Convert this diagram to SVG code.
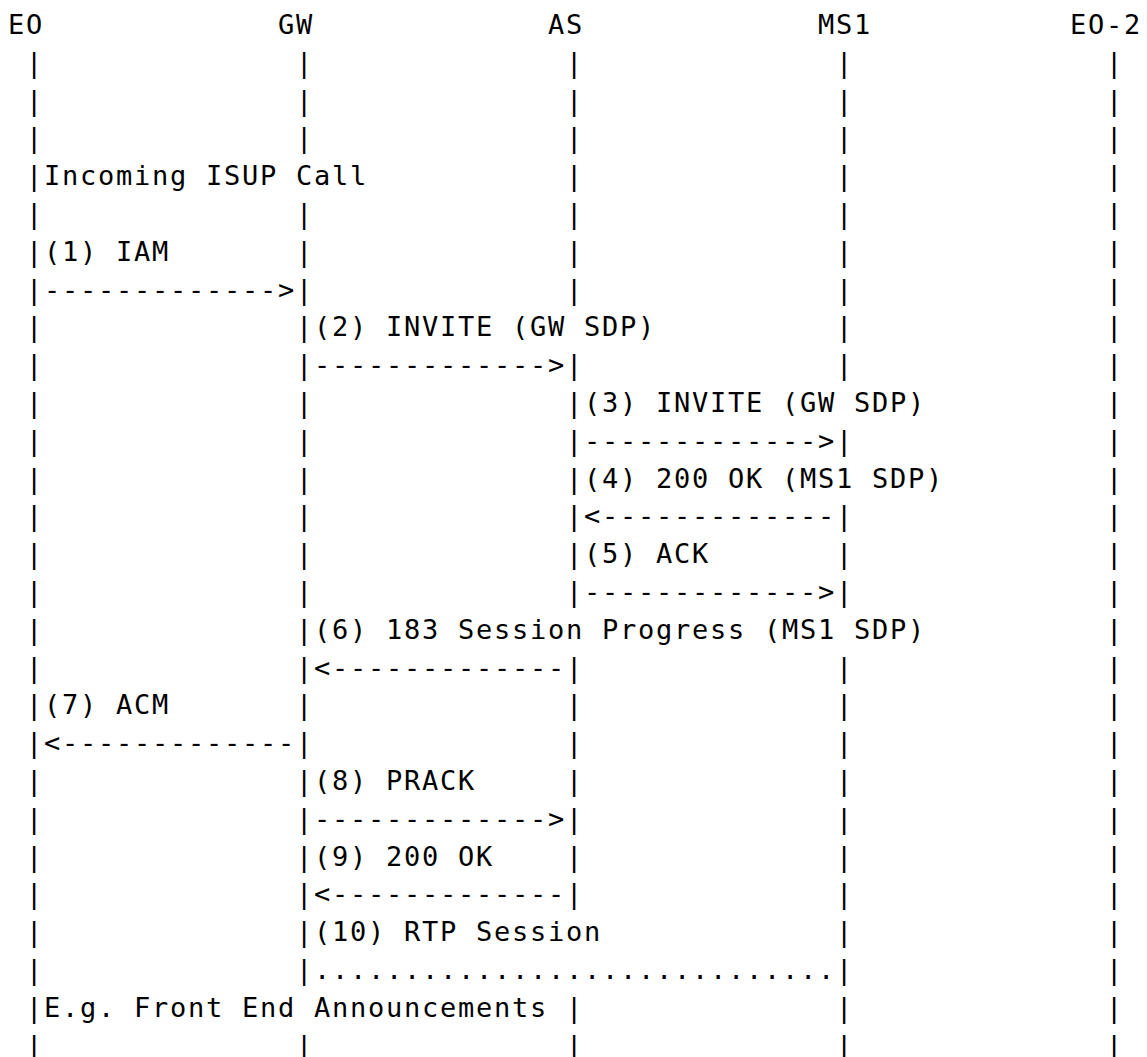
<svg xmlns="http://www.w3.org/2000/svg" width="1147" height="1057" viewBox="0 0 1147 1057">
<style>
text{font-family:"DejaVu Sans Mono","Liberation Mono",monospace;font-size:27px;letter-spacing:1.75px;fill:#000;white-space:pre}
</style>
<rect width="1147" height="1057" fill="#fff"/>
<g transform="translate(-0.3 0)">
<g id="node-EO">
<text x="8.2" y="34">EO</text>
<text class="life"><tspan x="26.2" y="71.8">|</tspan><tspan x="26.2" y="109.6">|</tspan><tspan x="26.2" y="147.4">|</tspan><tspan x="26.2" y="185.2">|</tspan><tspan x="26.2" y="223">|</tspan><tspan x="26.2" y="260.8">|</tspan><tspan x="26.2" y="298.6">|</tspan><tspan x="26.2" y="336.4">|</tspan><tspan x="26.2" y="374.2">|</tspan><tspan x="26.2" y="412">|</tspan><tspan x="26.2" y="449.8">|</tspan><tspan x="26.2" y="487.6">|</tspan><tspan x="26.2" y="525.4">|</tspan><tspan x="26.2" y="563.2">|</tspan><tspan x="26.2" y="601">|</tspan><tspan x="26.2" y="638.8">|</tspan><tspan x="26.2" y="676.6">|</tspan><tspan x="26.2" y="714.4">|</tspan><tspan x="26.2" y="752.2">|</tspan><tspan x="26.2" y="790">|</tspan><tspan x="26.2" y="827.8">|</tspan><tspan x="26.2" y="865.6">|</tspan><tspan x="26.2" y="903.4">|</tspan><tspan x="26.2" y="941.2">|</tspan><tspan x="26.2" y="979">|</tspan><tspan x="26.2" y="1016.8">|</tspan><tspan x="26.2" y="1054.6">|</tspan></text>
</g>
<g id="node-GW">
<text x="278.2" y="34">GW</text>
<text class="life"><tspan x="296.2" y="71.8">|</tspan><tspan x="296.2" y="109.6">|</tspan><tspan x="296.2" y="147.4">|</tspan><tspan x="296.2" y="223">|</tspan><tspan x="296.2" y="260.8">|</tspan><tspan x="296.2" y="298.6">|</tspan><tspan x="296.2" y="336.4">|</tspan><tspan x="296.2" y="374.2">|</tspan><tspan x="296.2" y="412">|</tspan><tspan x="296.2" y="449.8">|</tspan><tspan x="296.2" y="487.6">|</tspan><tspan x="296.2" y="525.4">|</tspan><tspan x="296.2" y="563.2">|</tspan><tspan x="296.2" y="601">|</tspan><tspan x="296.2" y="638.8">|</tspan><tspan x="296.2" y="676.6">|</tspan><tspan x="296.2" y="714.4">|</tspan><tspan x="296.2" y="752.2">|</tspan><tspan x="296.2" y="790">|</tspan><tspan x="296.2" y="827.8">|</tspan><tspan x="296.2" y="865.6">|</tspan><tspan x="296.2" y="903.4">|</tspan><tspan x="296.2" y="941.2">|</tspan><tspan x="296.2" y="979">|</tspan><tspan x="296.2" y="1054.6">|</tspan></text>
</g>
<g id="node-AS">
<text x="548.2" y="34">AS</text>
<text class="life"><tspan x="566.2" y="71.8">|</tspan><tspan x="566.2" y="109.6">|</tspan><tspan x="566.2" y="147.4">|</tspan><tspan x="566.2" y="185.2">|</tspan><tspan x="566.2" y="223">|</tspan><tspan x="566.2" y="260.8">|</tspan><tspan x="566.2" y="298.6">|</tspan><tspan x="566.2" y="374.2">|</tspan><tspan x="566.2" y="412">|</tspan><tspan x="566.2" y="449.8">|</tspan><tspan x="566.2" y="487.6">|</tspan><tspan x="566.2" y="525.4">|</tspan><tspan x="566.2" y="563.2">|</tspan><tspan x="566.2" y="601">|</tspan><tspan x="566.2" y="676.6">|</tspan><tspan x="566.2" y="714.4">|</tspan><tspan x="566.2" y="752.2">|</tspan><tspan x="566.2" y="790">|</tspan><tspan x="566.2" y="827.8">|</tspan><tspan x="566.2" y="865.6">|</tspan><tspan x="566.2" y="903.4">|</tspan><tspan x="566.2" y="1016.8">|</tspan><tspan x="566.2" y="1054.6">|</tspan></text>
</g>
<g id="node-MS1">
<text x="818.2" y="34">MS1</text>
<text class="life"><tspan x="836.2" y="71.8">|</tspan><tspan x="836.2" y="109.6">|</tspan><tspan x="836.2" y="147.4">|</tspan><tspan x="836.2" y="185.2">|</tspan><tspan x="836.2" y="223">|</tspan><tspan x="836.2" y="260.8">|</tspan><tspan x="836.2" y="298.6">|</tspan><tspan x="836.2" y="336.4">|</tspan><tspan x="836.2" y="374.2">|</tspan><tspan x="836.2" y="449.8">|</tspan><tspan x="836.2" y="525.4">|</tspan><tspan x="836.2" y="563.2">|</tspan><tspan x="836.2" y="601">|</tspan><tspan x="836.2" y="676.6">|</tspan><tspan x="836.2" y="714.4">|</tspan><tspan x="836.2" y="752.2">|</tspan><tspan x="836.2" y="790">|</tspan><tspan x="836.2" y="827.8">|</tspan><tspan x="836.2" y="865.6">|</tspan><tspan x="836.2" y="903.4">|</tspan><tspan x="836.2" y="941.2">|</tspan><tspan x="836.2" y="979">|</tspan><tspan x="836.2" y="1016.8">|</tspan><tspan x="836.2" y="1054.6">|</tspan></text>
</g>
<g id="node-EO-2">
<text x="1070.2" y="34">EO-2</text>
<text class="life"><tspan x="1106.2" y="71.8">|</tspan><tspan x="1106.2" y="109.6">|</tspan><tspan x="1106.2" y="147.4">|</tspan><tspan x="1106.2" y="185.2">|</tspan><tspan x="1106.2" y="223">|</tspan><tspan x="1106.2" y="260.8">|</tspan><tspan x="1106.2" y="298.6">|</tspan><tspan x="1106.2" y="336.4">|</tspan><tspan x="1106.2" y="374.2">|</tspan><tspan x="1106.2" y="412">|</tspan><tspan x="1106.2" y="449.8">|</tspan><tspan x="1106.2" y="487.6">|</tspan><tspan x="1106.2" y="525.4">|</tspan><tspan x="1106.2" y="563.2">|</tspan><tspan x="1106.2" y="601">|</tspan><tspan x="1106.2" y="638.8">|</tspan><tspan x="1106.2" y="676.6">|</tspan><tspan x="1106.2" y="714.4">|</tspan><tspan x="1106.2" y="752.2">|</tspan><tspan x="1106.2" y="790">|</tspan><tspan x="1106.2" y="827.8">|</tspan><tspan x="1106.2" y="865.6">|</tspan><tspan x="1106.2" y="903.4">|</tspan><tspan x="1106.2" y="941.2">|</tspan><tspan x="1106.2" y="979">|</tspan><tspan x="1106.2" y="1016.8">|</tspan><tspan x="1106.2" y="1054.6">|</tspan></text>
</g>
<g id="notes">
<text x="44.2" y="185.2">Incoming ISUP Call</text>
<text x="44.2" y="1016.8">E.g. Front End Announcements</text>
</g>
<g id="connectors">
<text x="44.2" y="260.8">(1) IAM</text>
<text x="44.2" y="298.6">-------------&gt;</text>
<text x="314.2" y="336.4">(2) INVITE (GW SDP)</text>
<text x="314.2" y="374.2">-------------&gt;</text>
<text x="584.2" y="412">(3) INVITE (GW SDP)</text>
<text x="584.2" y="449.8">-------------&gt;</text>
<text x="584.2" y="487.6">(4) 200 OK (MS1 SDP)</text>
<text x="584.2" y="525.4">&lt;-------------</text>
<text x="584.2" y="563.2">(5) ACK</text>
<text x="584.2" y="601">-------------&gt;</text>
<text x="314.2" y="638.8">(6) 183 Session Progress (MS1 SDP)</text>
<text x="314.2" y="676.6">&lt;-------------</text>
<text x="44.2" y="714.4">(7) ACM</text>
<text x="44.2" y="752.2">&lt;-------------</text>
<text x="314.2" y="790">(8) PRACK</text>
<text x="314.2" y="827.8">-------------&gt;</text>
<text x="314.2" y="865.6">(9) 200 OK</text>
<text x="314.2" y="903.4">&lt;-------------</text>
<text x="314.2" y="941.2">(10) RTP Session</text>
<text x="314.2" y="979">.............................</text>
</g>
</g>
</svg>
